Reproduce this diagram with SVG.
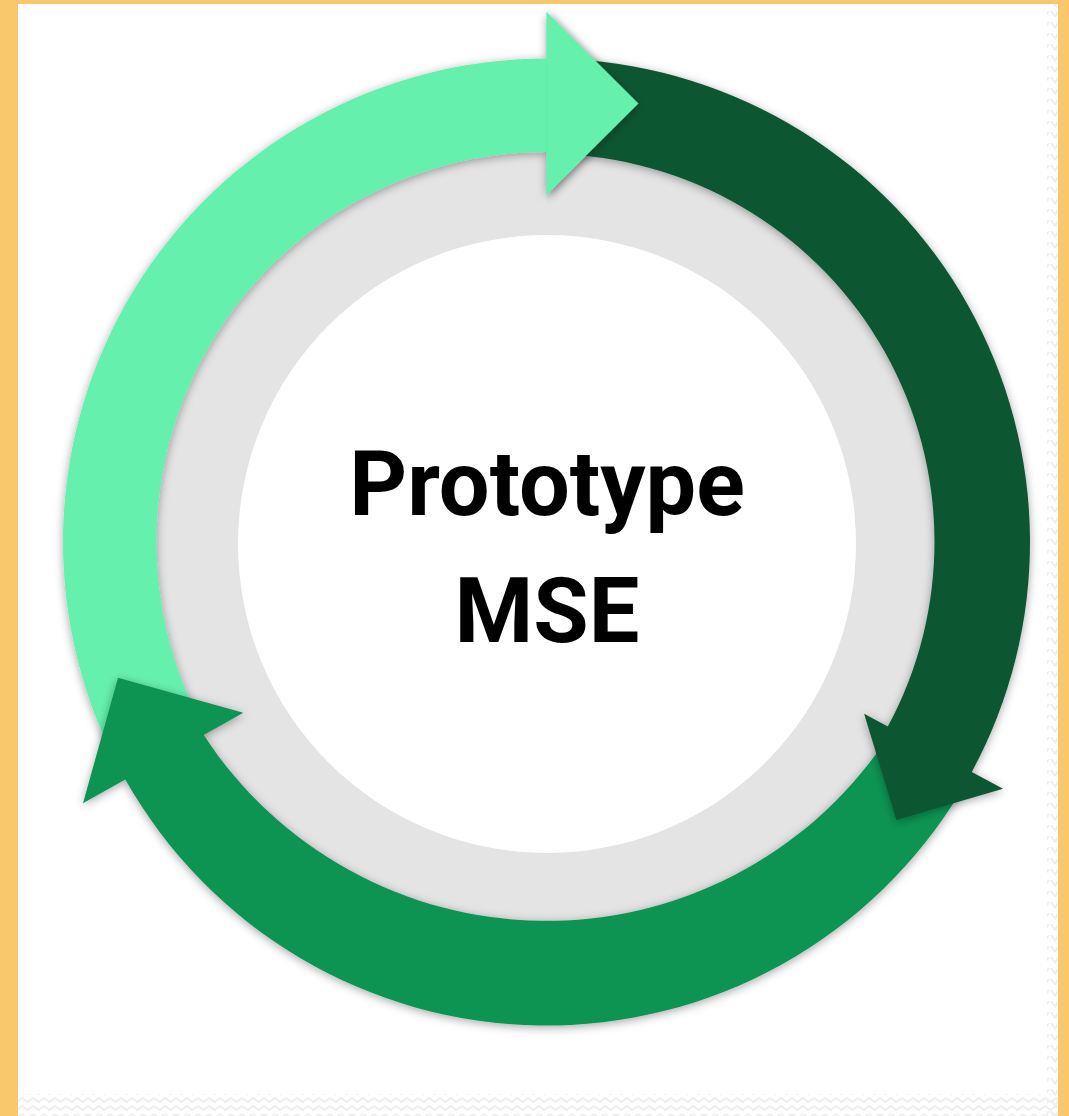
<svg xmlns="http://www.w3.org/2000/svg" width="1069" height="1116" viewBox="0 0 1069 1116">
  <defs>
    <style>
      .frame { fill: #F9C86C; }
      .ring { fill: #E4E4E4; }
      .core { fill: #FFFFFF; }
      .a-light { fill: #66F0AE; }
      .a-dark { fill: #0A5733; }
      .a-mid { fill: #0F9452; }
      .label { font-family: Roboto, "Liberation Sans", Arial, sans-serif; font-weight: 700; font-size: 90px; fill: #000000; text-anchor: middle; }
      .zig { fill: none; stroke: #EEEEEE; stroke-width: 2; }
    </style>
    <filter id="soft" x="-10%" y="-10%" width="120%" height="120%">
      <feDropShadow dx="0" dy="2" stdDeviation="5" flood-color="#000000" flood-opacity="0.35"/>
    </filter>
    <clipPath id="headClip">
      <rect x="546.5" y="0" width="200" height="260"/>
    </clipPath>
    <pattern id="zigH" width="11" height="8" patternUnits="userSpaceOnUse">
      <path class="zig" d="M0 2 L5.5 6 L11 2"/>
    </pattern>
    <pattern id="zigV" width="10" height="11" patternUnits="userSpaceOnUse">
      <path class="zig" d="M1 0 L5 5.5 L9 0"/>
    </pattern>
  </defs>

  <!-- page -->
  <rect x="0" y="0" width="1069" height="1116" fill="#FFFFFF"/>
  <rect x="18" y="1094" width="1040" height="22" fill="url(#zigH)"/>
  <rect x="1047" y="4" width="11" height="1112" fill="url(#zigV)"/>
  <rect class="frame" x="0" y="0" width="18" height="1116"/>
  <rect class="frame" x="0" y="0" width="1069" height="4"/>
  <rect class="frame" x="1058" y="0" width="11" height="1116"/>

  <!-- backdrop ring -->
  <circle class="ring" cx="546.5" cy="542" r="440"/>
  <circle class="core" cx="547" cy="544" r="309"/>

  <!-- cycle arrows -->
  <g id="connectors">
    <g id="arrow-light" filter="url(#soft)">
      <path class="a-light" d="M115.7 761.5 A483.5 483.5 0 0 1 546.5 58.5 L546.5 12 L638.5 103.5 L546.5 195 L546.5 152 A390 390 0 0 0 199.0 719.1 Z"/>
    </g>
    <g id="arrow-mid" filter="url(#soft)">
      <path class="a-mid" d="M961.0 791.0 A483.5 483.5 0 0 1 125.3 779.4 L83.0 803.2 L118.0 677.8 L243.3 712.8 L203.8 735.1 A409 409 0 0 0 883.1 744.2 Z"/>
    </g>
    <g id="arrow-dark" filter="url(#soft)">
      <path class="a-dark" d="M571.8 59.2 A483.5 483.5 0 0 1 971.8 772.0 L1003.0 788.8 L896.4 819.9 L864.1 713.7 L887.8 726.5 A388 388 0 0 0 566.8 154.5 Z"/>
    </g>
    <!-- light arrow head laid over the dark arrow's tail -->
    <g id="arrow-light-head" clip-path="url(#headClip)">
      <path class="a-light" filter="url(#soft)" d="M546.5 12 L638.5 103.5 L546.5 195 Z"/>
    </g>
  </g>

  <!-- centre label -->
  <g id="node-center">
    <text class="label" x="547" y="515">Prototype</text>
    <text class="label" x="547" y="642">MSE</text>
  </g>
</svg>
